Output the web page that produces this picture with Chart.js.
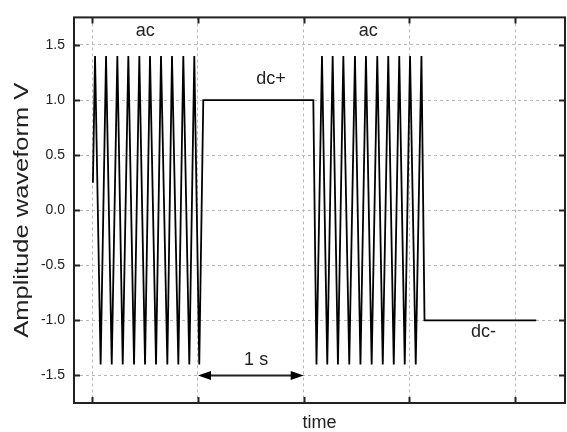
<!DOCTYPE html>
<html>
<head>
<meta charset="utf-8">
<script src="https://cdn.jsdelivr.net/npm/chart.js@4/dist/chart.umd.min.js"></script>
<style>
  html, body { margin: 0; padding: 0; background: #fff; }
  #wrap { width: 567px; height: 432px; }
</style>
</head>
<body>
<div id="wrap"><canvas id="waveChart" width="567" height="432"></canvas></div>
<script>
// waveform vertices (time in s, amplitude in V)
const timeS = [
  0.006, 0.026, 0.079, 0.130, 0.184, 0.237, 0.288, 0.341, 0.395, 0.445,
  0.499, 0.546, 0.603, 0.650, 0.710, 0.754, 0.814, 0.861, 0.918, 0.965,
  1.012, 1.050, 2.091, 2.121, 2.173, 2.223, 2.274, 2.324, 2.375, 2.431,
  2.485, 2.537, 2.589, 2.643, 2.696, 2.748, 2.800, 2.852, 2.904, 2.956,
  3.006, 3.060, 3.114, 3.143, 4.200
];
const amplitudeV = [
  0.25, 1.4, -1.4, 1.4, -1.4, 1.4, -1.4, 1.4, -1.4, 1.4,
  -1.4, 1.4, -1.4, 1.4, -1.4, 1.4, -1.4, 1.4, -1.4, 1.4,
  -1.4, 1.0, 1.0, -1.4, 1.4, -1.4, 1.4, -1.4, 1.4, -1.4,
  1.4, -1.4, 1.4, -1.4, 1.4, -1.4, 1.4, -1.4, 1.4, -1.4,
  1.4, -1.4, 1.4, -1.0, -1.0
];
const yTicks = [-1.5, -1.0, -0.5, 0.0, 0.5, 1.0, 1.5];
const xTicks = [0, 1, 2, 3, 4];

// labels on the plot: [text, time, amplitude]
const notes = [
  ["ac", 0.50, 1.63],
  ["ac", 2.61, 1.63],
  ["dc+", 1.69, 1.19],
  ["dc-", 3.70, -1.11],
  ["1 s", 1.55, -1.36]
];
const arrowSpan = [1, 2, -1.5];
const yTitle = "Amplitude waveform V";

const FONT = "'Liberation Sans', Arial, sans-serif";
const INK = "#222";

const points = timeS.map((t, i) => ({ x: t, y: amplitudeV[i] }));

const framePlugin = {
  id: "frame",
  afterDatasetsDraw(chart) {
    const ctx = chart.ctx;
    const a = chart.chartArea;
    const xs = chart.scales.x, ys = chart.scales.y;
    ctx.save();
    ctx.strokeStyle = INK;
    ctx.lineWidth = 2;
    ctx.strokeRect(a.left, a.top, a.right - a.left, a.bottom - a.top);
    // inward ticks
    ctx.beginPath();
    yTicks.forEach(v => {
      const py = Math.round(ys.getPixelForValue(v)) + 0.5;
      ctx.moveTo(a.left, py); ctx.lineTo(a.left + 6, py);
      ctx.moveTo(a.right, py); ctx.lineTo(a.right - 6, py);
    });
    xTicks.forEach(v => {
      const px = Math.round(xs.getPixelForValue(v)) + 0.5;
      ctx.moveTo(px, a.bottom); ctx.lineTo(px, a.bottom - 6);
      ctx.moveTo(px, a.top); ctx.lineTo(px, a.top + 6);
    });
    ctx.stroke();

    // double arrow for "1 s"
    const x1 = xs.getPixelForValue(arrowSpan[0]);
    const x2 = xs.getPixelForValue(arrowSpan[1]);
    const ay = ys.getPixelForValue(arrowSpan[2]);
    ctx.lineWidth = 2;
    ctx.beginPath();
    ctx.moveTo(x1 + 8, ay); ctx.lineTo(x2 - 8, ay);
    ctx.stroke();
    ctx.fillStyle = "#000";
    ctx.beginPath();
    ctx.moveTo(x1, ay); ctx.lineTo(x1 + 13, ay - 4.5); ctx.lineTo(x1 + 13, ay + 4.5);
    ctx.closePath(); ctx.fill();
    ctx.beginPath();
    ctx.moveTo(x2, ay); ctx.lineTo(x2 - 13, ay - 4.5); ctx.lineTo(x2 - 13, ay + 4.5);
    ctx.closePath(); ctx.fill();

    ctx.fillStyle = INK;
    ctx.font = "18px " + FONT;
    ctx.textAlign = "center";
    ctx.textBaseline = "middle";
    notes.forEach(n => {
      ctx.fillText(n[0], xs.getPixelForValue(n[1]), ys.getPixelForValue(n[2]));
    });

    // y title, drawn wide like the original
    ctx.translate(22, (a.top + a.bottom) / 2);
    ctx.rotate(-Math.PI / 2);
    ctx.font = "20px " + FONT;
    const w = ctx.measureText(yTitle).width;
    ctx.scale(255 / w, 1);
    ctx.fillText(yTitle, 0, 0);
    ctx.restore();
  }
};

const gridStyle = {
  color: "#b8b8b8",
  lineWidth: 1,
  drawTicks: false
};

new Chart(document.getElementById("waveChart").getContext("2d"), {
  type: "scatter",
  data: {
    datasets: [{
      label: "waveform",
      data: points,
      showLine: true,
      borderColor: "#000",
      borderWidth: 1.8,
      pointRadius: 0,
      tension: 0,
      fill: false
    }]
  },
  options: {
    responsive: false,
    animation: false,
    devicePixelRatio: 1,
    layout: { padding: { top: 12, right: 2, left: 0, bottom: 0 } },
    plugins: { legend: { display: false }, tooltip: { enabled: false } },
    scales: {
      x: {
        type: "linear",
        min: -0.173,
        max: 4.472,
        afterBuildTicks: s => { s.ticks = xTicks.map(v => ({ value: v })); },
        afterFit: s => { s.height = 29; },
        ticks: { display: false },
        grid: Object.assign({}, gridStyle),
        border: { display: false, dash: [3, 3] },
        title: {
          display: true, text: "time", color: INK,
          font: { family: FONT, size: 18, lineHeight: 1 },
          padding: { top: 0, bottom: 0 }
        }
      },
      y: {
        min: -1.75,
        max: 1.75,
        afterBuildTicks: s => { s.ticks = yTicks.map(v => ({ value: v })); },
        afterFit: s => { s.width = 74; },
        ticks: {
          padding: 9,
          color: INK,
          font: { family: FONT, size: 14 },
          callback: v => v.toFixed(1)
        },
        grid: Object.assign({}, gridStyle),
        border: { display: false, dash: [3, 3] }
      }
    }
  },
  plugins: [framePlugin]
});
</script>
</body>
</html>
